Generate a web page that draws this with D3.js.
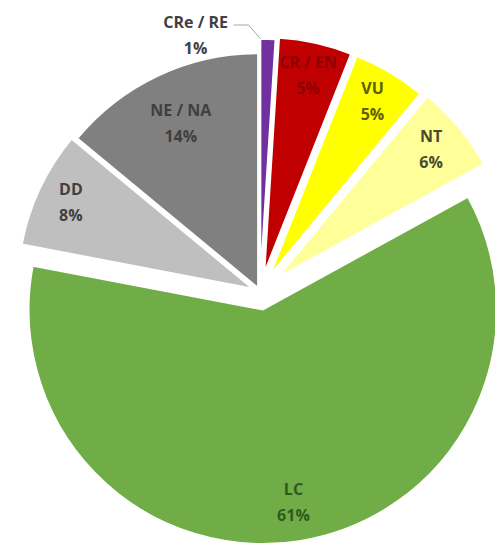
<!DOCTYPE html>
<meta charset="utf-8">
<style>
    body { margin: 0; background: #fff; }
    .slice path { stroke: #fff; stroke-width: 1.5; }
    .lbl text { font: bold 16px "Open Sans", sans-serif; text-anchor: middle; }
</style>
<svg width="495" height="549"></svg>
<script src="https://d3js.org/d3.v7.min.js"></script>
<script>
    // data (% of species)
    var categories = ["CRe / RE", "CR / EN", "VU", "NT", "LC", "DD", "NE / NA"];
    var values = [1, 5, 5, 6, 61, 8, 14];

    // look of each slice
    var colors = ["#7030A0", "#C00000", "#FFFF00", "#FFFF99", "#70AD47", "#BFBFBF", "#808080"];
    var textColors = ["#404040", "#8E0000", "#5E5E00", "#4A4A30", "#2F5A1E", "#404040", "#3F3F3F"];
    var explode = [19, 21, 21, 24, 18, 9, 5];
    var labelDist = [0, 200, 200, 198, 196, 200, 181];

    var svg = d3.select("svg"),
        R = 234,
        cx = 260, cy = 292;

    var pie = d3.pie().sort(null).value(function (d) { return d; });
    var arc = d3.arc().innerRadius(0).outerRadius(R);
    var arcs = pie(values);

    function mid(d) { return (d.startAngle + d.endAngle) / 2; }
    function apex(d, i) {
        var a = mid(d);
        return [cx + explode[i] * Math.sin(a), cy - explode[i] * Math.cos(a)];
    }

    var slice = svg.selectAll(".slice")
        .data(arcs)
        .enter().append("g")
        .attr("class", "slice")
        .attr("transform", function (d, i) { return "translate(" + apex(d, i) + ")"; });

    slice.append("path")
        .attr("d", arc)
        .style("fill", function (d, i) { return colors[i]; });

    // small first slice: its label sits outside, up and to the left
    var d0 = arcs[0], p0 = apex(d0, 0);
    var tx = p0[0] - 65, ty = p0[1] - R - 3;

    var lbl = svg.selectAll(".lbl")
        .data(arcs)
        .enter().append("g")
        .attr("class", "lbl")
        .attr("transform", function (d, i) {
            if (i == 0) return "translate(" + [tx, ty] + ")";
            var p = apex(d, i), a = mid(d);
            return "translate(" + [p[0] + labelDist[i] * Math.sin(a), p[1] - labelDist[i] * Math.cos(a)] + ")";
        });

    lbl.append("text")
        .attr("y", -8)
        .style("fill", function (d, i) { return textColors[i]; })
        .text(function (d, i) { return categories[i]; });

    lbl.append("text")
        .attr("y", 18)
        .style("fill", function (d, i) { return textColors[i]; })
        .text(function (d, i) { return values[i] + "%"; });

    // leader line for CRe / RE
    var end = [p0[0] + R * Math.sin(d0.startAngle), p0[1] - R * Math.cos(d0.startAngle)];
    svg.append("polyline")
        .attr("points", [[tx + 38, ty - 11], [tx + 53, ty - 11], end].join(" "))
        .style("fill", "none")
        .style("stroke", "#A6A6A6")
        .style("stroke-width", 1);
</script>
